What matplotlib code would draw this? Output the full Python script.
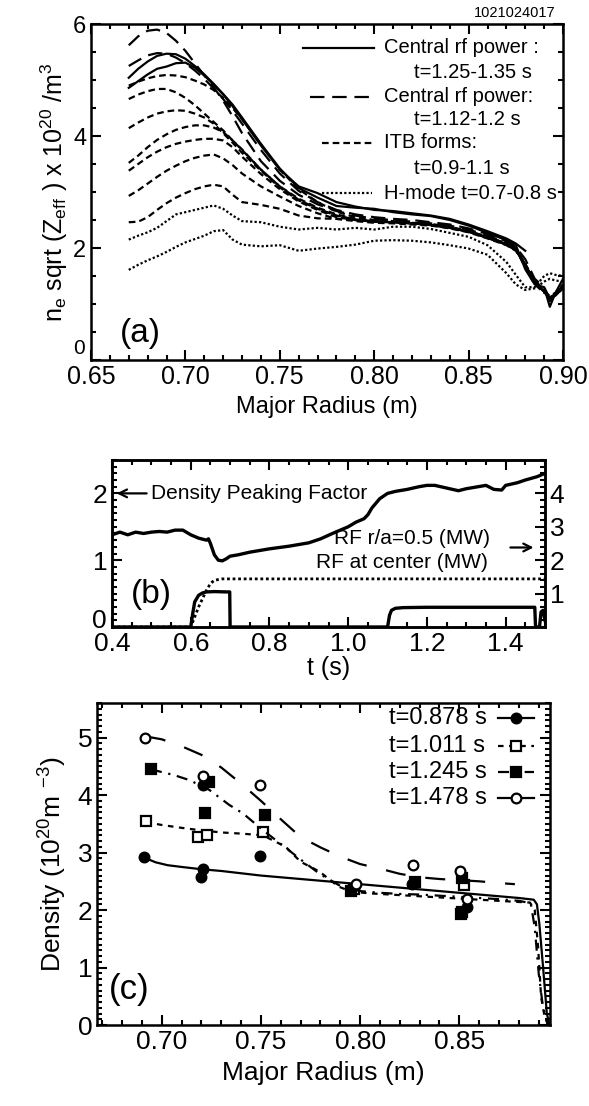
import numpy as np
import matplotlib
matplotlib.use("Agg")
import matplotlib.pyplot as plt
from matplotlib.ticker import MultipleLocator, FixedLocator

plt.rcParams['font.family'] = ['Liberation Sans', 'DejaVu Sans']
plt.rcParams['mathtext.fontset'] = 'custom'
plt.rcParams['mathtext.rm'] = 'Liberation Sans'
plt.rcParams['mathtext.it'] = 'Liberation Sans'
plt.rcParams['axes.linewidth'] = 1.8

# ---------------- panel (a): ne sqrt(Zeff) profiles ----------------
R_a = [0.670, 0.675, 0.680, 0.685, 0.690, 0.695, 0.700, 0.705, 0.710, 0.715,
       0.720, 0.725, 0.730, 0.740, 0.750, 0.760, 0.770, 0.780, 0.790, 0.800,
       0.810, 0.820, 0.830, 0.840, 0.850, 0.860, 0.870, 0.875, 0.880, 0.885,
       0.890, 0.893, 0.896, 0.900]

# central rf power t=1.25-1.35 s (solid)
solid_a1 = [5.04, 5.20, 5.33, 5.43, 5.47, 5.46, 5.38, 5.25, 5.10, 4.93,
            4.75, 4.56, 4.33, 3.86, 3.42, 3.07, 2.90, 2.75, 2.72, 2.70,
            2.64, 2.60, 2.57, 2.50, 2.40, 2.27, 2.14, 2.05, 1.62, 1.35,
            1.30, 0.95, 1.20, 1.45]
solid_a2 = [4.86, 4.98, 5.10, 5.20, 5.24, 5.30, 5.31, 5.22, 5.08, 4.92,
            4.74, 4.53, 4.30, 3.83, 3.40, 3.10, 2.98, 2.82, 2.74, 2.68,
            2.66, 2.62, 2.58, 2.52, 2.42, 2.30, 2.17, 2.08, 1.95]
# central rf power t=1.12-1.2 s (long dash)
ldash_a1 = [5.62, 5.78, 5.88, 5.90, 5.84, 5.70, 5.52, 5.30, 5.08, 4.87,
            4.63, 4.35, 4.05, 3.55, 3.20, 2.95, 2.78, 2.66, 2.58, 2.52,
            2.50, 2.47, 2.44, 2.40, 2.33, 2.22, 2.10, 2.00, 1.70, 1.40,
            1.25, 1.05, 1.15, 1.35]
ldash_a2 = [5.25, 5.35, 5.44, 5.48, 5.47, 5.40, 5.30, 5.17, 5.02, 4.85,
            4.66, 4.45, 4.22, 3.75, 3.33, 3.02, 2.82, 2.68, 2.60, 2.55,
            2.52, 2.50, 2.46, 2.42, 2.35, 2.25, 2.12, 2.02, 1.80, 1.45,
            1.30, 1.10, 1.20, 1.30]
# ITB forms t=0.9-1.1 s (short dash)
itb_a = [
    [4.90, 4.97, 5.03, 5.07, 5.09, 5.08, 5.05, 4.99, 4.92, 4.82,
     4.68, 4.50, 4.30, 3.85, 3.40, 3.05, 2.82, 2.65, 2.55, 2.50,
     2.48, 2.45, 2.43, 2.38, 2.30, 2.20, 2.08, 1.98, 1.65, 1.35,
     1.20, 1.15, 1.20, 1.35],
    [4.66, 4.74, 4.80, 4.84, 4.84, 4.78, 4.68, 4.55, 4.40, 4.25,
     4.10, 3.92, 3.75, 3.40, 3.10, 2.88, 2.72, 2.60, 2.52, 2.49,
     2.47, 2.44, 2.42, 2.37, 2.30, 2.20, 2.08, 1.98, 1.70, 1.40,
     1.22, 1.10, 1.15, 1.30],
    [4.14, 4.24, 4.33, 4.40, 4.44, 4.46, 4.45, 4.40, 4.33, 4.22,
     4.05, 3.88, 3.70, 3.38, 3.08, 2.85, 2.70, 2.58, 2.51, 2.48,
     2.46, 2.44, 2.41, 2.36, 2.29, 2.19, 2.07, 1.97, 1.72, 1.42,
     1.25, 1.12, 1.18, 1.32],
    [3.52, 3.65, 3.80, 3.93, 4.03, 4.11, 4.16, 4.19, 4.19, 4.15,
     4.07, 3.92, 3.76, 3.40, 3.10, 2.86, 2.70, 2.57, 2.50, 2.47,
     2.46, 2.44, 2.41, 2.36, 2.29, 2.18, 2.06, 1.96, 1.70, 1.38,
     1.22, 1.10, 1.16, 1.28],
    [3.38, 3.50, 3.62, 3.72, 3.80, 3.86, 3.90, 3.93, 3.95, 3.95,
     3.92, 3.80, 3.63, 3.32, 3.05, 2.83, 2.68, 2.55, 2.50, 2.47,
     2.46, 2.44, 2.41, 2.36, 2.29, 2.18, 2.06, 1.96, 1.70, 1.38,
     1.22, 1.10, 1.16, 1.28],
    [2.93, 3.03, 3.15, 3.27, 3.38, 3.47, 3.55, 3.61, 3.65, 3.67,
     3.60, 3.48, 3.33, 3.10, 2.92, 2.75, 2.62, 2.52, 2.50, 2.47,
     2.46, 2.44, 2.41, 2.36, 2.29, 2.18, 2.06, 1.96, 1.70, 1.38,
     1.22, 1.10, 1.16, 1.28],
    [2.46, 2.47, 2.55, 2.68, 2.80, 2.90, 2.98, 3.05, 3.10, 3.13,
     3.10, 2.95, 2.82, 2.77, 2.70, 2.58, 2.53, 2.52, 2.48, 2.45,
     2.44, 2.42, 2.40, 2.35, 2.28, 2.17, 2.05, 1.95, 1.70, 1.38,
     1.22, 1.10, 1.16, 1.28],
]
# H-mode t=0.7-0.8 s (dotted)
hmode_a1 = [2.15, 2.22, 2.28, 2.36, 2.48, 2.60, 2.64, 2.68, 2.72, 2.76,
            2.70, 2.58, 2.48, 2.46, 2.38, 2.33, 2.36, 2.33, 2.36, 2.33,
            2.38, 2.38, 2.34, 2.27, 2.20, 2.05, 1.75, 1.52, 1.30, 1.30,
            1.50, 1.55, 1.52, 1.50]
hmode_a2 = [1.61, 1.70, 1.78, 1.85, 1.93, 2.02, 2.10, 2.16, 2.22, 2.30,
            2.32, 2.15, 2.06, 2.03, 2.05, 1.95, 1.99, 2.02, 2.06, 2.13,
            2.14, 2.13, 2.10, 2.05, 1.99, 1.88, 1.55, 1.35, 1.25, 1.28,
            1.40, 1.45, 1.42, 1.40]

# ---------------- panel (b): time traces ----------------
t_pf = [0.40, 0.42, 0.44, 0.46, 0.48, 0.50, 0.52, 0.54, 0.56, 0.58,
        0.60, 0.62, 0.64, 0.645, 0.65, 0.66, 0.67, 0.68, 0.69, 0.70,
        0.72, 0.75, 0.80, 0.85, 0.90, 0.93, 0.96, 0.98, 1.00, 1.02,
        1.04, 1.05, 1.06, 1.08, 1.10, 1.12, 1.15, 1.18, 1.20, 1.22,
        1.25, 1.28, 1.30, 1.33, 1.35, 1.37, 1.39, 1.40, 1.43, 1.45,
        1.48, 1.50]
peaking = [1.38, 1.42, 1.38, 1.42, 1.40, 1.42, 1.43, 1.42, 1.45, 1.45,
           1.38, 1.33, 1.30, 1.32, 1.25, 1.08, 1.00, 0.99, 1.02, 1.06,
           1.08, 1.12, 1.17, 1.21, 1.26, 1.32, 1.40, 1.45, 1.50, 1.57,
           1.62, 1.68, 1.78, 1.92, 2.00, 2.03, 2.06, 2.10, 2.12, 2.12,
           2.08, 2.04, 2.07, 2.10, 2.12, 2.06, 2.05, 2.12, 2.16, 2.20,
           2.25, 2.30]

t_rf = [0.40, 0.600, 0.605, 0.610, 0.620, 0.630, 0.640, 0.660, 0.690, 0.699,
        0.700, 1.100, 1.105, 1.110, 1.120, 1.140, 1.200, 1.300, 1.400, 1.474,
        1.476, 1.486, 1.490, 1.495, 1.500]
rf_center = [0.0, 0.0, 0.40, 0.75, 0.95, 1.02, 1.05, 1.06, 1.05, 1.05,
             0.0, 0.0, 0.35, 0.50, 0.56, 0.58, 0.59, 0.59, 0.59, 0.59,
             0.0, 0.0, 0.45, 0.50, 0.20]
t_rf05 = [0.40, 0.60, 0.61, 0.62, 0.63, 0.64, 0.65, 0.66, 0.68, 0.80,
          1.00, 1.20, 1.40, 1.50]
rf_half = [0.0, 0.0, 0.30, 0.60, 0.85, 1.10, 1.30, 1.40, 1.44, 1.44,
           1.44, 1.44, 1.44, 1.44]

# ---------------- panel (c): density profiles ----------------
pts_R = {
    't=0.878 s': [0.6911, 0.7210, 0.7210, 0.7198, 0.7495, 0.7970, 0.8259, 0.8537],
    't=1.011 s': [0.6921, 0.7185, 0.7227, 0.7510, 0.7970, 0.8523, 0.8510],
    't=1.245 s': [0.6946, 0.7240, 0.7218, 0.7520, 0.7956, 0.8278, 0.8514, 0.8512],
    't=1.478 s': [0.6916, 0.7210, 0.7495, 0.7980, 0.8269, 0.8505, 0.8537],
}
pts_n = {
    't=0.878 s': [2.93, 4.17, 2.72, 2.58, 2.94, 2.38, 2.46, 2.06],
    't=1.011 s': [3.55, 3.27, 3.30, 3.36, 2.36, 2.43, 1.94],
    't=1.245 s': [4.45, 4.23, 3.68, 3.65, 2.33, 2.49, 2.55, 1.97],
    't=1.478 s': [5.00, 4.33, 4.17, 2.45, 2.79, 2.68, 2.20],
}
fit_R = {
    't=0.878 s': [0.692, 0.697, 0.703, 0.710, 0.720, 0.730, 0.740, 0.750, 0.760,
                  0.770, 0.780, 0.790, 0.800, 0.810, 0.820, 0.830, 0.840, 0.850,
                  0.860, 0.870, 0.880, 0.8875, 0.8891, 0.8903, 0.8922, 0.8941, 0.8955],
    't=1.011 s': [0.6921, 0.700, 0.710, 0.719, 0.730, 0.740, 0.751, 0.7625, 0.770,
                  0.7795, 0.789, 0.7956, 0.805, 0.815, 0.825, 0.835, 0.845, 0.855,
                  0.865, 0.875, 0.8856, 0.888, 0.8897, 0.8912, 0.893, 0.895],
    't=1.245 s': [0.6946, 0.700, 0.706, 0.714, 0.724, 0.734, 0.741, 0.751, 0.760,
                  0.770, 0.780, 0.790, 0.800, 0.810, 0.820, 0.830, 0.840, 0.850,
                  0.860, 0.870, 0.880, 0.886, 0.888, 0.890, 0.892, 0.8945],
    't=1.478 s': [0.692, 0.700, 0.710, 0.720, 0.730, 0.740, 0.750, 0.760, 0.770,
                  0.780, 0.790, 0.800, 0.810, 0.820, 0.830, 0.840, 0.850, 0.860,
                  0.870, 0.878],
}
fit_n = {
    't=0.878 s': [2.90, 2.83, 2.78, 2.75, 2.71, 2.68, 2.64, 2.60, 2.57,
                  2.54, 2.51, 2.48, 2.45, 2.42, 2.39, 2.36, 2.33, 2.30,
                  2.27, 2.24, 2.21, 2.18, 2.10, 1.77, 1.01, 0.20, 0.0],
    't=1.011 s': [3.53, 3.48, 3.43, 3.39, 3.35, 3.33, 3.30, 3.10, 2.84,
                  2.67, 2.41, 2.32, 2.29, 2.27, 2.25, 2.23, 2.21, 2.19,
                  2.17, 2.15, 2.13, 2.00, 1.36, 0.49, 0.14, 0.0],
    't=1.245 s': [4.45, 4.40, 4.35, 4.26, 4.09, 3.83, 3.68, 3.39, 3.15,
                  2.88, 2.62, 2.42, 2.33, 2.30, 2.28, 2.27, 2.25, 2.23,
                  2.21, 2.19, 2.16, 2.12, 1.70, 0.90, 0.35, 0.0],
    't=1.478 s': [5.02, 4.97, 4.85, 4.70, 4.48, 4.20, 3.90, 3.58, 3.27,
                  3.09, 2.93, 2.80, 2.72, 2.63, 2.57, 2.54, 2.52, 2.50,
                  2.47, 2.45],
}
series_c = ['t=0.878 s', 't=1.011 s', 't=1.245 s', 't=1.478 s']

# ---------------- figure ----------------
fig = plt.figure(figsize=(5.89, 11.06), dpi=100)

LW = 1.6
LDASH = (0, (6.5, 3.5))
SDASH = (0, (3.0, 1.8))
DOT = (0, (1.0, 1.0))


def style_ticks(ax, labelsize):
    ax.tick_params(which='both', direction='in', width=1.5, labelsize=labelsize)
    ax.tick_params(which='major', length=7)
    ax.tick_params(which='minor', length=3.5)


# (a)
ax_a = fig.add_axes([0.1545, 0.6745, 0.8014, 0.3038])
ax_a.plot(R_a, solid_a1, color='k', lw=LW)
ax_a.plot(R_a[:len(solid_a2)], solid_a2, color='k', lw=LW)
ax_a.plot(R_a, ldash_a1, color='k', lw=LW, ls=LDASH)
ax_a.plot(R_a, ldash_a2, color='k', lw=LW, ls=LDASH)
for prof in itb_a:
    ax_a.plot(R_a, prof, color='k', lw=LW, ls=SDASH)
ax_a.plot(R_a, hmode_a1, color='k', lw=LW, ls=DOT)
ax_a.plot(R_a, hmode_a2, color='k', lw=LW, ls=DOT)
ax_a.set_xlim(0.65, 0.90)
ax_a.set_ylim(0, 6)
ax_a.xaxis.set_minor_locator(MultipleLocator(0.01))
ax_a.yaxis.set_minor_locator(MultipleLocator(0.5))
ax_a.set_xticks([0.65, 0.70, 0.75, 0.80, 0.85, 0.90])
ax_a.set_xticklabels(['0.65', '0.70', '0.75', '0.80', '0.85', '0.90'])
ax_a.set_yticks([0, 2, 4, 6])
ax_a.set_yticklabels(['', '2', '4', '6'])
ax_a.tick_params(top=True, right=True, which='both')
style_ticks(ax_a, 18)
ax_a.tick_params(axis='y', labelsize=17)
ax_a.text(-0.012, 0.035, '0', transform=ax_a.transAxes, fontsize=15,
          ha='right', va='center')
ax_a.set_xlabel('Major Radius (m)', fontsize=17, labelpad=5)
ax_a.set_ylabel(r'n$_{\rm e}$ sqrt (Z$_{\rm eff}$ ) x 10$^{20}$ /m$^3$', fontsize=18, labelpad=2)
ax_a.text(0.105, 0.08, '(a)', transform=ax_a.transAxes, fontsize=24,
          ha='center', va='center')

# manual legend (a)
leg_a = [
    (0.450, 0.600, '-', 'Central rf power :', 't=1.25-1.35 s', 0.929, 0.857),
    (0.465, 0.595, LDASH, 'Central rf power:', 't=1.12-1.2 s', 0.783, 0.715),
    (0.490, 0.595, SDASH, 'ITB forms:', 't=0.9-1.1 s', 0.646, 0.571),
    (0.490, 0.595, DOT, 'H-mode t=0.7-0.8 s', None, 0.497, None),
]
for x0, x1, ls, l1, l2, y1, y2 in leg_a:
    ax_a.plot([x0, x1], [y1, y1], transform=ax_a.transAxes, color='k', lw=LW, ls=ls)
    ax_a.text(0.62, y1, l1, transform=ax_a.transAxes, fontsize=14.5, va='center')
    if l2:
        ax_a.text(0.685, y2, l2, transform=ax_a.transAxes, fontsize=14.5, va='center')
fig.text(0.943, 0.988, '1021024017', fontsize=10.5, ha='right', va='center')

# (b)
ax_b = fig.add_axes([0.1902, 0.4331, 0.7351, 0.1510])
ax_b.plot(t_pf, peaking, color='k', lw=2.4)
ax_b.set_xlim(0.4, 1.5)
ax_b.set_ylim(0, 2.5)
ax_b.xaxis.set_minor_locator(MultipleLocator(0.05))
ax_b.yaxis.set_major_locator(FixedLocator([0, 1, 2]))
ax_b.yaxis.set_minor_locator(MultipleLocator(0.1))
ax_b.tick_params(top=True, which='both')
style_ticks(ax_b, 19)
ax_b.set_xticks([0.4, 0.6, 0.8, 1.0, 1.2, 1.4])
ax_b.set_xticklabels(['0.4', '0.6', '0.8', '1.0', '1.2', '1.4'])
ax_b.set_yticklabels(['', '1', '2'])
ax_b.text(-0.012, 0.035, '0', transform=ax_b.transAxes, fontsize=19,
          ha='right', va='center')
ax_b.set_xlabel('t (s)', fontsize=18, labelpad=0)
axr = ax_b.twinx()
axr.plot(t_rf05, rf_half, color='k', lw=2.0, ls=DOT)
axr.plot(t_rf, rf_center, color='k', lw=2.4)
axr.set_ylim(0, 5)
axr.yaxis.set_major_locator(FixedLocator([1, 2, 3, 4]))
axr.yaxis.set_minor_locator(MultipleLocator(0.2))
style_ticks(axr, 19)

ax_b.annotate('', xy=(0.405, 2.0), xytext=(0.495, 2.0),
              arrowprops=dict(arrowstyle='->', color='k', lw=1.6, mutation_scale=14))
ax_b.text(0.50, 2.0, 'Density Peaking Factor', fontsize=15, va='center')
ax_b.text(1.36, 1.33, 'RF r/a=0.5 (MW)', fontsize=15, va='center', ha='right')
ax_b.text(1.355, 0.97, 'RF at center (MW)', fontsize=15, va='center', ha='right')
ax_b.annotate('', xy=(1.478, 1.19), xytext=(1.405, 1.19),
              arrowprops=dict(arrowstyle='->', color='k', lw=1.6, mutation_scale=14))
ax_b.text(0.50, 0.48, '(b)', fontsize=24, ha='center', va='center')

# (c)
ax_c = fig.add_axes([0.1647, 0.0732, 0.7691, 0.2911])
styles_c = {
    't=0.878 s': dict(ls='-', marker='o', mfc='k'),
    't=1.011 s': dict(ls=(0, (2.5, 2.5)), marker='s', mfc='white'),
    't=1.245 s': dict(ls=(0, (5, 3, 1, 3)), marker='s', mfc='k'),
    't=1.478 s': dict(ls=(0, (9, 9)), marker='o', mfc='white'),
}
for key in series_c:
    st = styles_c[key]
    ax_c.plot(fit_R[key], fit_n[key], color='k', lw=1.6, ls=st['ls'])
    ax_c.plot(pts_R[key], pts_n[key], ls='none', marker=st['marker'], ms=7,
              mfc=st['mfc'], mec='k', mew=1.6)
ax_c.set_xlim(0.6674, 0.8957)
ax_c.set_ylim(0, 5.6)
ax_c.set_xticks([0.70, 0.75, 0.80, 0.85])
ax_c.set_xticklabels(['0.70', '0.75', '0.80', '0.85'])
ax_c.xaxis.set_minor_locator(MultipleLocator(0.01))
ax_c.yaxis.set_major_locator(MultipleLocator(1))
ax_c.yaxis.set_minor_locator(MultipleLocator(0.1))
ax_c.tick_params(top=True, right=True, which='both')
style_ticks(ax_c, 19)
ax_c.set_xlabel('Major Radius (m)', fontsize=19, labelpad=5)
ax_c.set_ylabel(r'Density (10$^{20}$m $^{-3}$)', fontsize=19, labelpad=6)
ax_c.text(0.07, 0.11, '(c)', transform=ax_c.transAxes, fontsize=25,
          ha='center', va='center')

leg_y = [0.953, 0.866, 0.785, 0.705]
for key, y in zip(series_c, leg_y):
    st = styles_c[key]
    ax_c.text(0.645, y, key, transform=ax_c.transAxes, fontsize=17, va='center')
    ax_c.plot([0.885, 0.965], [y, y], transform=ax_c.transAxes, color='k', lw=1.6,
              ls=st['ls'] if key != 't=1.478 s' else '-')
    ax_c.plot([0.925], [y], transform=ax_c.transAxes, ls='none', marker=st['marker'],
              ms=7, mfc=st['mfc'], mec='k', mew=1.6)

fig.savefig('out.png', dpi=100)
